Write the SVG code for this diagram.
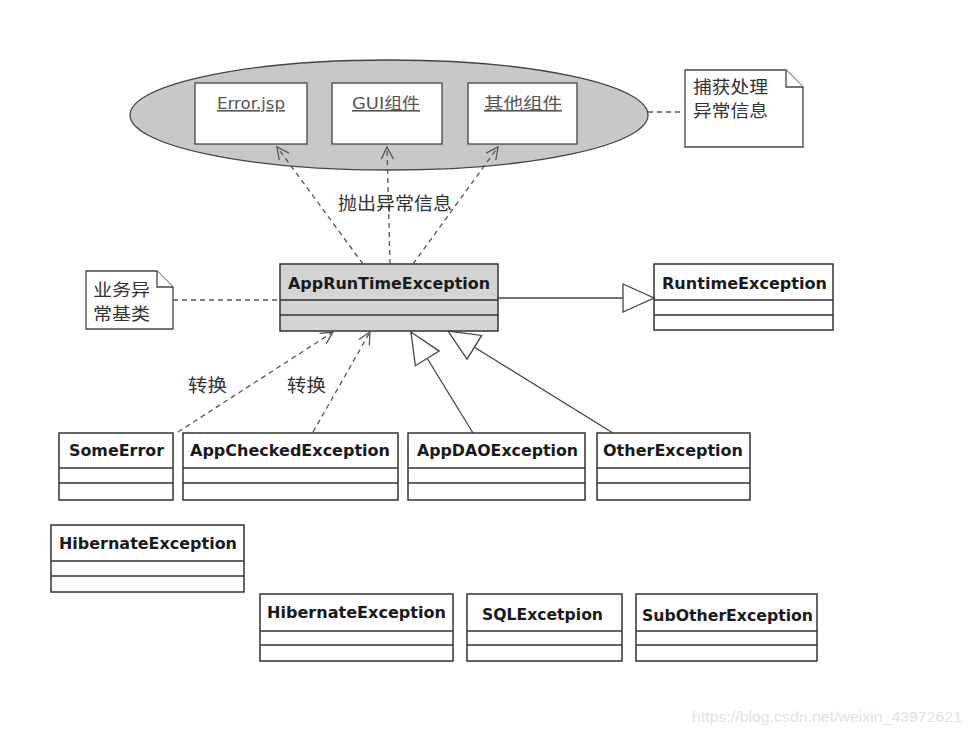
<svg xmlns="http://www.w3.org/2000/svg" width="970" height="736" viewBox="0 0 970 736">
<style>
.cls{fill:#fff;stroke:#333;stroke-width:1.5}
.div{stroke:#333;stroke-width:1.5}
.cn{font-family:"DejaVu Sans","Liberation Sans",sans-serif;font-weight:bold;font-size:15.5px;fill:#1a1a1a}
.comp{fill:#fff;stroke:#444;stroke-width:1.3}
.ct{font-family:"DejaVu Sans","Noto Sans CJK SC",sans-serif;font-size:16px;fill:#555;text-decoration:underline}
.zh{font-family:"Noto Sans CJK SC","DejaVu Sans",sans-serif;font-size:18.5px;fill:#333}
.zn{font-family:"Noto Sans CJK SC","DejaVu Sans",sans-serif;font-size:17px;fill:#333}
.note{fill:#fff;stroke:#444;stroke-width:1.3}
.dash{fill:none;stroke:#555;stroke-width:1.3;stroke-dasharray:5 4}
.solid{fill:none;stroke:#444;stroke-width:1.3}
</style>
<defs>
<marker id="open" markerUnits="userSpaceOnUse" markerWidth="16" markerHeight="16" refX="13" refY="6" orient="auto" viewBox="0 0 16 12">
<path d="M1,0 L13,6 L1,12" fill="none" stroke="#555" stroke-width="1.3"/>
</marker>
<marker id="tri" markerUnits="userSpaceOnUse" markerWidth="34" markerHeight="32" refX="32" refY="15" orient="auto" viewBox="0 0 34 30">
<path d="M1,1 L32,15 L1,29 z" fill="#fff" stroke="#444" stroke-width="1.3"/>
</marker>
</defs>

<g id="container">
<ellipse cx="389" cy="115" rx="259" ry="55" fill="#c8c8c8" stroke="#444" stroke-width="1.3"/>
</g>
<g id="error-jsp">
<rect class="comp" x="195" y="83" width="112" height="61"/>
<text class="ct" x="217" y="109" textLength="68" lengthAdjust="spacingAndGlyphs">Error.jsp</text>
</g>
<g id="gui">
<rect class="comp" x="332" y="83" width="110" height="61"/>
<text class="ct" x="352" y="109" textLength="68" lengthAdjust="spacingAndGlyphs">GUI组件</text>
</g>
<g id="other-comp">
<rect class="comp" x="468" y="83" width="109" height="61"/>
<text class="ct" x="484" y="109" textLength="78" lengthAdjust="spacingAndGlyphs">其他组件</text>
</g>

<g id="note-catch">
<path class="note" d="M685,70 L786,70 L803,87 L803,147 L685,147 z"/>
<path class="note" d="M786,70 L786,87 L803,87" fill="none"/>
<text class="zn" x="693" y="93" textLength="75" lengthAdjust="spacingAndGlyphs">捕获处理</text>
<text class="zn" x="693" y="117" textLength="75" lengthAdjust="spacingAndGlyphs">异常信息</text>
</g>

<g id="note-base">
<path class="note" d="M86,271 L157,271 L173,287 L173,329 L86,329 z"/>
<path class="note" d="M157,271 L157,287 L173,287" fill="none"/>
<text class="zn" x="93" y="296" textLength="57" lengthAdjust="spacingAndGlyphs">业务异</text>
<text class="zn" x="93" y="320" textLength="57" lengthAdjust="spacingAndGlyphs">常基类</text>
</g>

<g id="AppRunTimeException">
<rect x="280" y="264" width="218" height="67" fill="#d4d4d4" stroke="#333" stroke-width="1.5"/>
<line class="div" x1="280" y1="300" x2="498" y2="300"/>
<line class="div" x1="280" y1="315" x2="498" y2="315"/>
<text class="cn" x="288" y="289" textLength="202" lengthAdjust="spacingAndGlyphs">AppRunTimeException</text>
</g>
<g id="RuntimeException">
<rect class="cls" x="654" y="264" width="179" height="66"/>
<line class="div" x1="654" y1="300" x2="833" y2="300"/>
<line class="div" x1="654" y1="315" x2="833" y2="315"/>
<text class="cn" x="662" y="289" textLength="165" lengthAdjust="spacingAndGlyphs">RuntimeException</text>
</g>
<g id="SomeError">
<rect class="cls" x="59" y="433" width="114" height="67"/>
<line class="div" x1="59" y1="468" x2="173" y2="468"/>
<line class="div" x1="59" y1="483" x2="173" y2="483"/>
<text class="cn" x="69" y="456" textLength="95" lengthAdjust="spacingAndGlyphs">SomeError</text>
</g>
<g id="AppCheckedException">
<rect class="cls" x="183" y="433" width="215" height="67"/>
<line class="div" x1="183" y1="468" x2="398" y2="468"/>
<line class="div" x1="183" y1="483" x2="398" y2="483"/>
<text class="cn" x="190" y="456" textLength="200" lengthAdjust="spacingAndGlyphs">AppCheckedException</text>
</g>
<g id="AppDAOException">
<rect class="cls" x="408" y="433" width="177" height="67"/>
<line class="div" x1="408" y1="468" x2="585" y2="468"/>
<line class="div" x1="408" y1="483" x2="585" y2="483"/>
<text class="cn" x="417" y="456" textLength="161" lengthAdjust="spacingAndGlyphs">AppDAOException</text>
</g>
<g id="OtherException">
<rect class="cls" x="597" y="433" width="153" height="67"/>
<line class="div" x1="597" y1="468" x2="750" y2="468"/>
<line class="div" x1="597" y1="483" x2="750" y2="483"/>
<text class="cn" x="603" y="456" textLength="140" lengthAdjust="spacingAndGlyphs">OtherException</text>
</g>
<g id="HibernateException-1">
<rect class="cls" x="51" y="525" width="193" height="67"/>
<line class="div" x1="51" y1="561" x2="244" y2="561"/>
<line class="div" x1="51" y1="576" x2="244" y2="576"/>
<text class="cn" x="59" y="549" textLength="178" lengthAdjust="spacingAndGlyphs">HibernateException</text>
</g>
<g id="HibernateException-2">
<rect class="cls" x="260" y="594" width="193" height="67"/>
<line class="div" x1="260" y1="631" x2="453" y2="631"/>
<line class="div" x1="260" y1="645" x2="453" y2="645"/>
<text class="cn" x="267" y="618" textLength="179" lengthAdjust="spacingAndGlyphs">HibernateException</text>
</g>
<g id="SQLExcetpion">
<rect class="cls" x="467" y="594" width="155" height="67"/>
<line class="div" x1="467" y1="631" x2="622" y2="631"/>
<line class="div" x1="467" y1="645" x2="622" y2="645"/>
<text class="cn" x="482" y="620" textLength="121" lengthAdjust="spacingAndGlyphs">SQLExcetpion</text>
</g>
<g id="SubOtherException">
<rect class="cls" x="636" y="594" width="181" height="67"/>
<line class="div" x1="636" y1="631" x2="817" y2="631"/>
<line class="div" x1="636" y1="645" x2="817" y2="645"/>
<text class="cn" x="642" y="621" textLength="171" lengthAdjust="spacingAndGlyphs">SubOtherException</text>
</g>

<g id="connectors">
<line class="dash" x1="648" y1="112" x2="685" y2="112"/>
<line class="dash" x1="173" y1="300" x2="280" y2="300"/>
<line class="dash" x1="363" y1="264" x2="277" y2="147" marker-end="url(#open)"/>
<line class="dash" x1="390" y1="264" x2="387" y2="147" marker-end="url(#open)"/>
<line class="dash" x1="413" y1="264" x2="498" y2="147" marker-end="url(#open)"/>
<line class="dash" x1="178" y1="432" x2="333" y2="332" marker-end="url(#open)"/>
<line class="dash" x1="313" y1="432" x2="370" y2="332" marker-end="url(#open)"/>
<line class="solid" x1="498" y1="298" x2="654" y2="298" marker-end="url(#tri)"/>
<line class="solid" x1="473" y1="433" x2="411" y2="332" marker-end="url(#tri)"/>
<line class="solid" x1="613" y1="433" x2="448" y2="331" marker-end="url(#tri)"/>
<text class="zh" x="338" y="210" textLength="114" lengthAdjust="spacingAndGlyphs">抛出异常信息</text>
<text class="zh" x="188" y="392" textLength="39" lengthAdjust="spacingAndGlyphs">转换</text>
<text class="zh" x="287" y="392" textLength="39" lengthAdjust="spacingAndGlyphs">转换</text>
</g>

<text x="692" y="722" font-family="Liberation Sans, Arial, sans-serif" font-size="15.5" fill="#e2e2e2" textLength="270" lengthAdjust="spacingAndGlyphs">https://blog.csdn.net/weixin_43972621</text>
</svg>
